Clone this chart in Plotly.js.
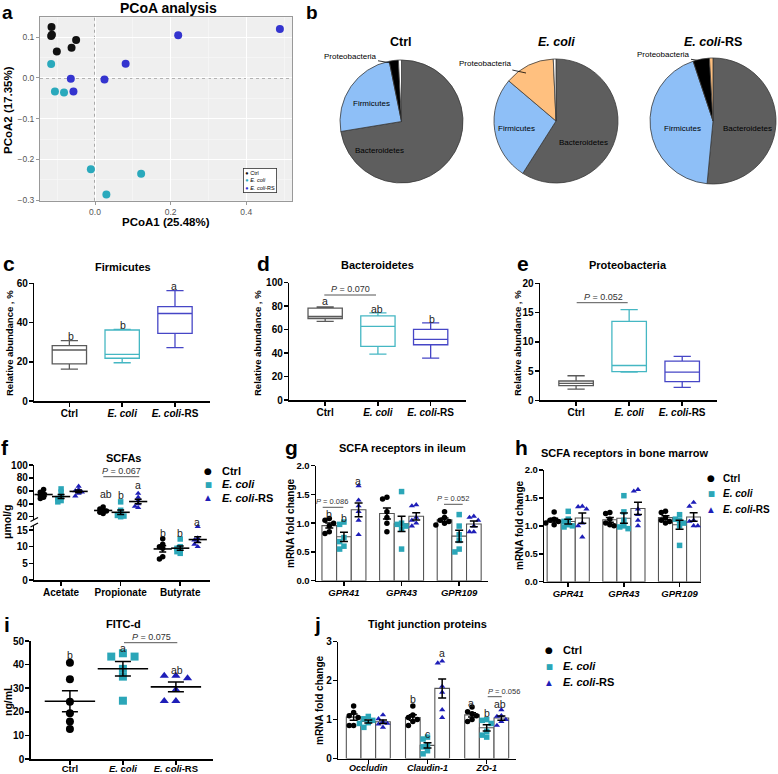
<!DOCTYPE html>
<html><head><meta charset="utf-8">
<script src="https://cdn.plot.ly/plotly-3.0.1.min.js"></script>
<style>html,body{margin:0;padding:0;background:#fff}#chart{width:778px;height:774px}</style>
</head><body><div id="chart"></div>
<script>
// ---------------- DATA ----------------
const groupNames = ['Ctrl', '<i>E. coli</i>', '<i>E. coli</i>-RS'];

// a: PCoA
const pcoaCtrlX = [-0.115, -0.116, -0.114, -0.101, -0.062, -0.050];
const pcoaCtrlY = [0.125, 0.103, 0.106, 0.065, 0.074, 0.093];
const pcoaEcoliX = [-0.116, -0.106, -0.082, -0.011, 0.122, 0.030];
const pcoaEcoliY = [0.034, -0.033, -0.036, -0.224, -0.235, -0.286];
const pcoaRSX = [-0.064, -0.057, 0.025, 0.081, 0.220, 0.489];
const pcoaRSY = [-0.002, -0.033, -0.004, 0.035, 0.105, 0.120];

// b: pies (Bacteroidetes, Firmicutes, Proteobacteria, Others)
const pieLabels = ['Bacteroidetes', 'Firmicutes', 'Proteobacteria', 'Others'];
const pieCtrl = [72.4, 24.4, 2.4, 0.8];
const pieEcoli = [59.0, 27.2, 13.1, 0.7];
const pieRS = [51.5, 43.4, 4.2, 0.9];

// c,d,e: box statistics (Ctrl, E. coli, E. coli-RS)
const firmLo = [16.2, 19.5, 27.2], firmQ1 = [18.9, 21.8, 34.5], firmMed = [26.0, 23.8, 44.6], firmQ3 = [28.2, 36.2, 48.1], firmHi = [30.8, 36.5, 56.3];
const bactLo = [67.0, 39.1, 35.7], bactQ1 = [69.5, 45.7, 47.1], bactMed = [71.2, 62.7, 51.7], bactQ3 = [78.3, 71.8, 60.2], bactHi = [79.4, 74.3, 65.8];
const protLo = [1.9, 4.8, 2.2], protQ1 = [2.5, 4.9, 3.2], protMed = [2.9, 5.95, 4.8], protQ3 = [3.3, 13.5, 6.7], protHi = [4.2, 15.5, 7.5];

// f: SCFAs (umol/g)
const scfaCats = ['Acetate', 'Propionate', 'Butyrate'];
const acetateCtrl = [62, 58, 55, 53, 50, 48];
const acetateEcoli = [63, 58, 50, 48, 45, 43];
const acetateRS = [67, 62, 60, 58, 56, 52];
const propionateCtrl = [35, 32, 30, 29, 27, 25];
const propionateEcoli = [43, 30, 25, 22, 21, 20];
const propionateRS = [56, 50, 45, 40, 36, 34];
const butyrateCtrl = [12.4, 10.7, 10.0, 9.5, 7.0, 6.3];
const butyrateEcoli = [12.3, 10.0, 9.5, 9.0, 8.5, 8.0];
const butyrateRS = [16.0, 12.6, 12.0, 11.5, 10.7, 10.0];

// g: SCFA receptors in ileum
const gprCats = ['<i>GPR41</i>', '<i>GPR43</i>', '<i>GPR109</i>'];
const ileumCtrl = [[1.08, 1.05, 1.0, 0.95, 0.85, 0.82], [1.45, 1.42, 1.2, 1.1, 1.0, 0.85], [1.2, 1.1, 1.05, 1.03, 1.0, 0.97]];
const ileumEcoli = [[1.02, 0.98, 0.75, 0.68, 0.6, 0.55], [1.55, 1.0, 0.98, 0.95, 0.9, 0.55], [1.15, 0.95, 0.8, 0.7, 0.55, 0.5]];
const ileumRS = [[1.65, 1.4, 1.3, 1.2, 1.05, 0.8], [1.32, 1.3, 1.1, 1.05, 1.0, 0.95], [1.12, 1.1, 1.05, 0.95, 0.85, 0.85]];

// h: SCFA receptors in bone marrow
const marrowCtrl = [[1.25, 1.12, 1.1, 1.08, 1.05, 1.02], [1.24, 1.22, 1.12, 1.05, 1.02, 1.0], [1.26, 1.24, 1.15, 1.1, 1.08, 1.05]];
const marrowEcoli = [[1.26, 1.12, 1.08, 1.02, 1.0, 0.98], [1.54, 1.25, 1.1, 1.0, 0.98, 0.95], [1.2, 1.12, 1.1, 1.05, 1.0, 0.65]];
const marrowRS = [[1.35, 1.34, 1.3, 1.05, 1.0, 0.8], [1.65, 1.62, 1.3, 1.2, 1.1, 1.0], [1.42, 1.35, 1.1, 1.08, 1.0, 1.0]];

// i: FITC-d (ng/mL)
const fitcCtrl = [40.8, 33.8, 24.3, 19.4, 15.9, 12.7];
const fitcEcoli = [44.8, 43.4, 43.4, 38.2, 34.9, 24.7];
const fitcRS = [35.3, 35.3, 34.2, 29.3, 24.6, 24.6];

// j: tight junction proteins
const tjCats = ['<i>Occludin</i>', '<i>Claudin-1</i>', '<i>ZO-1</i>'];
const tjCtrl = [[1.35, 1.18, 1.1, 1.05, 0.85, 0.85], [1.35, 1.12, 1.05, 1.0, 0.95, 0.85], [1.32, 1.2, 1.15, 1.1, 1.0, 0.95]];
const tjEcoli = [[1.08, 1.02, 0.98, 0.92, 0.9, 0.8], [0.55, 0.5, 0.35, 0.3, 0.2, 0.12], [1.0, 0.98, 0.9, 0.7, 0.6, 0.55]];
const tjRS = [[1.12, 1.02, 0.95, 0.9, 0.88, 0.8], [2.5, 2.45, 1.85, 1.7, 1.25, 1.05], [1.25, 1.1, 1.08, 1.0, 0.95, 0.85]];

// ---------------- STYLE / HELPERS ----------------
const W = 778, H = 774;
const FONT = 'Liberation Sans, Arial, Helvetica, sans-serif';
const cCtrl = '#000000', cEco = '#2BA6B8', cRS = '#1E1EB8';
const pcCtrl = '#111111', pcEco = '#2AA9BC', pcRS = '#3434CF';
const bCtrl = '#5a5a5a', bEco = '#45B7C3', bRS = '#4646C6';
const symbols = ['circle', 'square', 'triangle-up'];
const dotColors = [cCtrl, cEco, cRS];
const dx = (a, b) => [a / W, b / W];
const dy = (top, bot) => [1 - bot / H, 1 - top / H];
const mean = a => a.reduce((s, v) => s + v, 0) / a.length;
const sem = a => { const m = mean(a); const sd = Math.sqrt(a.reduce((s, v) => s + (v - m) * (v - m), 0) / (a.length - 1)); return sd / Math.sqrt(a.length); };

function swarm(vals, d, thr) {
  const offs = []; const cands = [0, -1, 1, -2, 2, -3, 3];
  vals.forEach((v, i) => {
    for (const c of cands) {
      let ok = true;
      for (let j = 0; j < i; j++) if (offs[j] === c * d && Math.abs(vals[j] - v) < thr) { ok = false; break; }
      if (ok) { offs.push(c * d); return; }
    }
    offs.push(0);
  });
  return offs;
}

function pX(dom, anchor, range, ticktext, fs, standoff) {
  return { domain: dom, anchor: anchor, range: range, tickmode: 'array', tickvals: [0, 1, 2], ticktext: ticktext,
    showline: true, linecolor: '#000', linewidth: 1.5, ticks: 'outside', ticklen: 4, tickwidth: 1.5, tickcolor: '#000',
    showgrid: false, zeroline: false, fixedrange: true, ticklabelstandoff: standoff === undefined ? -2 : standoff,
    tickfont: { family: FONT, size: fs || 10, color: '#000', weight: 'bold' } };
}
function pY(dom, anchor, range, tickvals, fmt, fs) {
  return { domain: dom, anchor: anchor, range: range, tickmode: 'array', tickvals: tickvals, tickformat: fmt || '',
    showline: true, linecolor: '#000', linewidth: 1.5, ticks: 'outside', ticklen: 4, tickwidth: 1.5, tickcolor: '#000',
    showgrid: false, zeroline: false, fixedrange: true, ticklabelstandoff: -1,
    tickfont: { family: FONT, size: fs || 10, color: '#000', weight: 'bold' } };
}

const traces = [];
const annotations = [];
const shapes = [];

function T(text, px, py, size, o) {
  annotations.push(Object.assign({ text: text, x: px / W, y: 1 - py / H, xref: 'paper', yref: 'paper', showarrow: false,
    xanchor: 'center', yanchor: 'middle', font: { family: FONT, size: size, color: '#000' } }, o || {}));
}
function TB(text, px, py, size, o) { T(text, px, py, size, Object.assign({ font: { family: FONT, size: size, color: '#000', weight: 'bold' } }, o || {})); }
function L(x0, y0, x1, y1, color, width) {
  shapes.push({ type: 'line', xref: 'paper', yref: 'paper', x0: x0 / W, x1: x1 / W, y0: 1 - y0 / H, y1: 1 - y1 / H, line: { color: color || '#000', width: width || 1 } });
}

// ---------------- a: PCoA ----------------
[[pcoaCtrlX, pcoaCtrlY, pcCtrl], [pcoaEcoliX, pcoaEcoliY, pcEco], [pcoaRSX, pcoaRSY, pcRS]].forEach(([xs, ys, col], i) => {
  traces.push({ type: 'scatter', mode: 'markers', x: xs, y: ys, xaxis: 'x', yaxis: 'y', name: groupNames[i], showlegend: false,
    marker: { size: 8, color: col, line: { width: 0 } }, hoverinfo: 'skip' });
});
shapes.push({ type: 'rect', xref: 'x domain', yref: 'y domain', x0: 0, x1: 1, y0: 0, y1: 1, fillcolor: '#EFEFEF', line: { width: 0 }, layer: 'below' });
shapes.push({ type: 'line', xref: 'x', yref: 'y domain', x0: 0, x1: 0, y0: 0, y1: 1, line: { color: '#777', width: 1.2, dash: 'dot' }, layer: 'below' });
shapes.push({ type: 'line', xref: 'x domain', yref: 'y', x0: 0, x1: 1, y0: 0, y1: 0, line: { color: '#777', width: 1.2, dash: 'dot' }, layer: 'below' });

// ---------------- b: pies ----------------
const pieCols = [
  ['#5E5E5E', '#8EBFF7', '#000000', '#FFFFFF'],
  ['#5E5E5E', '#8EBFF7', '#FFC07F', '#FFFFFF'],
  ['#5E5E5E', '#8EBFF7', '#000000', '#FFC07F']];
[[pieCtrl, 340, 463, 60, 183], [pieEcoli, 494, 618, 59, 183], [pieRS, 650, 776, 58, 184]].forEach(([vals, x0, x1, y0, y1], i) => {
  traces.push({ type: 'pie', values: vals, labels: pieLabels, sort: false, direction: 'clockwise', rotation: 0,
    textinfo: 'none', hoverinfo: 'skip', showlegend: false,
    marker: { colors: pieCols[i], line: { color: '#3a3a3a', width: 0.8 } },
    domain: { x: dx(x0, x1), y: dy(y0, y1) } });
});

// ---------------- c,d,e: boxes ----------------
function boxes(xa, ya, lo, q1, med, q3, hi) {
  [bCtrl, bEco, bRS].forEach((col, i) => {
    traces.push({ type: 'box', x: [i], q1: [q1[i]], median: [med[i]], q3: [q3[i]], lowerfence: [lo[i]], upperfence: [hi[i]],
      xaxis: xa, yaxis: ya, width: 0.65, whiskerwidth: 0.5, fillcolor: 'rgba(255,255,255,0)', line: { color: col, width: 1.3 },
      showlegend: false, hoverinfo: 'skip', boxpoints: false });
  });
}
boxes('x2', 'y2', firmLo, firmQ1, firmMed, firmQ3, firmHi);
boxes('x3', 'y3', bactLo, bactQ1, bactMed, bactQ3, bactHi);
boxes('x4', 'y4', protLo, protQ1, protMed, protQ3, protHi);

// ---------------- dot / bar helpers ----------------
function dots(xa, ya, xs, ys, gi, size) {
  traces.push({ type: 'scatter', mode: 'markers', x: xs, y: ys, xaxis: xa, yaxis: ya, showlegend: false, hoverinfo: 'skip', cliponaxis: false,
    marker: { symbol: symbols[gi], size: size, color: dotColors[gi], line: { width: 0 } } });
}
function meanSem(xa, ya, xs, means, sems, lineW, capW, showMean) {
  traces.push({ type: 'scatter', mode: 'markers', x: xs, y: means, xaxis: xa, yaxis: ya, showlegend: false, hoverinfo: 'skip', cliponaxis: false,
    marker: showMean ? { symbol: 'line-ew', size: lineW, color: '#000', line: { color: '#000', width: 1.6 } } : { size: 1, color: 'rgba(0,0,0,0)' },
    error_y: { type: 'data', array: sems, color: '#000', thickness: 1.5, width: capW } });
}

// ---------------- f: SCFAs ----------------
const fOff = 0.294;
[[acetateCtrl, propionateCtrl, butyrateCtrl], [acetateEcoli, propionateEcoli, butyrateEcoli], [acetateRS, propionateRS, butyrateRS]].forEach((arrs, gi) => {
  const c = (gi - 1) * fOff;
  const ux = [], uy = [];
  [arrs[0], arrs[1]].forEach((vals, ci) => {
    const o = swarm(vals, 0.055, 4.5);
    vals.forEach((v, k) => { ux.push(ci + c + o[k]); uy.push(v); });
  });
  dots('x5', 'y5', ux, uy, gi, 5.5);
  meanSem('x5', 'y5', [0 + c, 1 + c], [mean(arrs[0]), mean(arrs[1])], [sem(arrs[0]), sem(arrs[1])], 13, 3.5, true);
  const o = swarm(arrs[2], 0.055, 0.9);
  dots('x5', 'y6', arrs[2].map((v, k) => 2 + c + o[k]), arrs[2], gi, 5.5);
  meanSem('x5', 'y6', [2 + c], [mean(arrs[2])], [sem(arrs[2])], 13, 3.5, true);
});

// ---------------- bar panels g,h,j ----------------
function barPanel(xa, ya, gw, sets, size, d, thr) {
  const bw = gw / 3;
  sets.forEach((groupArr, gi) => {
    const off = -gw / 2 + gi * bw;
    const means = groupArr.map(mean);
    traces.push({ type: 'bar', x: [0, 1, 2], y: means, width: [bw, bw, bw], offset: [off, off, off], xaxis: xa, yaxis: ya,
      marker: { color: '#ffffff', line: { color: '#555', width: 1.1 } }, showlegend: false, hoverinfo: 'skip' });
  });
  sets.forEach((groupArr, gi) => {
    const cx = -gw / 2 + gi * bw + bw / 2;
    const xs = [], ys = [];
    groupArr.forEach((vals, ci) => { const o = swarm(vals, d, thr); vals.forEach((v, k) => { xs.push(ci + cx + o[k]); ys.push(v); }); });
    dots(xa, ya, xs, ys, gi, size);
  });
  sets.forEach((groupArr, gi) => {
    const cx = -gw / 2 + gi * bw + bw / 2;
    meanSem(xa, ya, [0 + cx, 1 + cx, 2 + cx], groupArr.map(mean), groupArr.map(sem), 0, 4, false);
  });
}
barPanel('x6', 'y7', 0.763, [ileumCtrl, ileumEcoli, ileumRS], 5.5, 0.075, 0.09);
barPanel('x7', 'y8', 0.758, [marrowCtrl, marrowEcoli, marrowRS], 5.5, 0.075, 0.09);
barPanel('x9', 'y10', 0.743, [tjCtrl, tjEcoli, tjRS], 5.5, 0.075, 0.13);

// ---------------- i: FITC-d ----------------
[fitcCtrl, fitcEcoli, fitcRS].forEach((vals, gi) => {
  const o = swarm(vals, 0.22, 2.6);
  dots('x8', 'y9', vals.map((v, k) => gi + o[k]), vals, gi, 8);
  meanSem('x8', 'y9', [gi], [mean(vals)], [sem(vals)], 36, 8, true);
});

// ---------------- annotations: panel letters ----------------
[['a', 7, 12.5, 19], ['b', 312, 12.5, 19], ['c', 9, 264, 21], ['d', 263, 264, 21], ['e', 523, 264, 21], ['f', 5, 447, 21], ['g', 291, 447, 21], ['h', 521, 447, 21], ['i', 7, 624, 21], ['j', 317, 624, 21]]
  .forEach(([t, x, y, s]) => TB(t, x, y, s));

// titles
TB('PCoA analysis', 168, 8, 14);
TB('Ctrl', 401, 42, 12.5);
TB('<i>E. coli</i>', 556, 42, 12.5);
TB('<i>E. coli</i>-RS', 713, 42, 12.5);
TB('Firmicutes', 123, 267, 11);
TB('Bacteroidetes', 377, 265, 11);
TB('Proteobacteria', 628, 265, 11);
TB('SCFAs', 123, 458, 11);
TB('SCFA receptors in ileum', 402, 448, 11);
TB('SCFA receptors in bone marrow', 625, 453, 11);
TB('FITC-d', 123, 624, 11);
TB('Tight junction proteins', 427, 624, 11);

// axis titles
TB('PCoA2 (17.35%)', 8, 110, 11.5, { textangle: -90 });
TB('PCoA1 (25.48%)', 166, 222, 11.5);
TB('Relative abundance , %', 9, 343, 9.5, { textangle: -90 });
TB('Relative abundance , %', 257, 343, 9.5, { textangle: -90 });
TB('Relative abundance , %', 517, 343, 9.5, { textangle: -90 });
TB('μmol/g', 7, 522, 10.5, { textangle: -90 });
TB('mRNA fold change', 290, 523, 10, { textangle: -90 });
TB('mRNA fold change', 519, 525, 10, { textangle: -90 });
TB('ng/mL', 8, 700, 10.5, { textangle: -90 });
TB('mRNA fold change', 319, 700, 10, { textangle: -90 });

// pie labels
T('Firmicutes', 371, 104, 8);
T('Bacteroidetes', 379, 150, 8);
T('Firmicutes', 516, 128, 8);
T('Bacteroidetes', 583, 143, 8);
T('Firmicutes', 682, 128, 8);
T('Bacteroidetes', 747, 128, 8);
[[350, 56, 391, 63], [485, 64, 526, 73], [663, 55, 702, 61]].forEach(([tx, ty, px, py]) => {
  annotations.push({ text: 'Proteobacteria', x: px / W, y: 1 - py / H, xref: 'paper', yref: 'paper', showarrow: true, arrowhead: 0,
    arrowwidth: 0.8, arrowcolor: '#000', ax: tx - px, ay: ty - py, standoff: 0, font: { family: FONT, size: 8, color: '#000' } });
});

// PCoA legend
annotations.push({ xref: 'paper', yref: 'paper', x: 243 / W, y: 1 - 193 / H, xanchor: 'left', yanchor: 'bottom', showarrow: false, align: 'left',
  text: '<span style="color:' + pcCtrl + '">●</span> Ctrl<br><span style="color:' + pcEco + '">●</span> <i>E. coli</i><br><span style="color:' + pcRS + '">●</span> <i>E. coli</i>-RS',
  font: { family: FONT, size: 5.5, color: '#000' }, bordercolor: '#333', borderwidth: 0.8, borderpad: 1.5, bgcolor: '#fff' });

// significance letters
const letterFs = 10.5;
[['b', 70.5, 336], ['b', 122.7, 325], ['a', 174, 286],
 ['a', 325, 301], ['ab', 377.3, 309], ['b', 431.7, 319],
 ['ab', 106, 494], ['b', 120.7, 495], ['a', 138.3, 485], ['b', 162.7, 533.3], ['b', 180, 533.3], ['a', 196.7, 521.7],
 ['b', 329.3, 514], ['b', 344, 518.3], ['a', 358.3, 481],
 ['b', 70, 655], ['a', 122.7, 648.3], ['ab', 176.7, 670],
 ['b', 412.7, 699], ['c', 427.3, 734], ['a', 442, 653.3], ['a', 471, 703.3], ['b', 486.7, 712.7], ['ab', 500, 704]]
  .forEach(([t, x, y]) => T(t, x, y, letterFs, { font: { family: FONT, size: letterFs, color: '#222' } }));

// P-value brackets
[['0.070', 324.3, 376, 295, 350.5, 9], ['0.052', 576.7, 627.7, 302.7, 603, 9], ['0.067', 103.3, 139.3, 476.7, 121.5, 9],
 ['0.086', 322.7, 343.3, 507.3, 332, 7.5], ['0.052', 444, 462.7, 504.3, 453, 7.5], ['0.075', 124, 177.3, 642.7, 151.5, 9],
 ['0.056', 487.7, 501.7, 696.7, 503.5, 7.5]].forEach(([p, x0, x1, y, tx, fs]) => {
  L(x0, y, x1, y, '#555', 1);
  annotations.push({ text: '<i>P</i> = ' + p, x: tx / W, y: 1 - y / H, xref: 'paper', yref: 'paper', showarrow: false,
    xanchor: 'center', yanchor: 'bottom', yshift: -1, font: { family: FONT, size: fs, color: '#333' } });
});

// axis break marks (panel f)
L(30.5, 521.5, 38, 517.5, '#000', 1.3);
L(30.5, 527, 38, 523, '#000', 1.3);

// group legends (f, h, j)
function legendBlock(mx, tx, rows, fs) {
  const syms = ['●', '■', '▲'];
  rows.forEach((ry, gi) => {
    T(syms[gi], mx, ry, gi === 0 ? 9 : 7.5, { font: { family: 'DejaVu Sans', size: gi === 0 ? 9 : 7.5, color: dotColors[gi] } });
    TB(groupNames[gi], tx, ry, fs, { xanchor: 'left' });
  });
}
legendBlock(208.3, 220, [471, 484.3, 497.7], 11);
legendBlock(711, 721, [478.3, 493.3, 509], 10);
legendBlock(549.3, 561, [650, 666, 682.3], 11);

// ---------------- LAYOUT ----------------
const grey = '#999';
const layout = {
  width: W, height: H, margin: { l: 0, r: 0, t: 0, b: 0, pad: 0 }, paper_bgcolor: '#fff', plot_bgcolor: 'rgba(0,0,0,0)',
  font: { family: FONT, color: '#000' }, showlegend: false, hovermode: false,
  xaxis: { domain: dx(40, 292), anchor: 'y', range: [-0.1455, 0.521], tickmode: 'linear', tick0: 0, dtick: 0.2, tickformat: '.1f',
    showgrid: true, gridcolor: '#ffffff', gridwidth: 1, minor: { dtick: 0.1, showgrid: true, gridcolor: '#f8f8f8', gridwidth: 0.6 },
    zeroline: false, showline: true, mirror: true, linecolor: grey, linewidth: 1, ticks: 'outside', ticklen: 3, tickcolor: grey,
    tickfont: { family: FONT, size: 8.5, color: '#555' } },
  yaxis: { domain: dy(17.3, 200.7), anchor: 'x', range: [-0.3015, 0.149], tickmode: 'linear', tick0: 0, dtick: 0.1, tickformat: '.1f',
    showgrid: true, gridcolor: '#ffffff', gridwidth: 1, minor: { dtick: 0.05, showgrid: true, gridcolor: '#f8f8f8', gridwidth: 0.6 },
    zeroline: false, showline: true, mirror: true, linecolor: grey, linewidth: 1, ticks: 'outside', ticklen: 3, tickcolor: grey,
    tickfont: { family: FONT, size: 8.5, color: '#555' } },
  xaxis2: pX(dx(34.3, 210), 'y2', [-0.664, 2.663], groupNames, 10),
  yaxis2: pY(dy(283.3, 401), 'x2', [0, 60], [0, 20, 40, 60]),
  xaxis3: pX(dx(289.3, 466), 'y3', [-0.68, 2.67], groupNames, 10),
  yaxis3: pY(dy(282.7, 400), 'x3', [0, 100], [0, 20, 40, 60, 80, 100]),
  xaxis4: pX(dx(540, 716.7), 'y4', [-0.68, 2.65], groupNames, 10),
  yaxis4: pY(dy(283.3, 400.3), 'x4', [0, 20], [0, 5, 10, 15, 20]),
  xaxis5: pX(dx(34.3, 210), 'y6', [-0.45, 2.5], scfaCats, 10),
  yaxis5: pY(dy(465, 519.5), 'x5', [15.7, 100], [20, 40, 60, 80, 100]),
  yaxis6: pY(dy(526, 580), 'x5', [0, 16.2], [0, 5, 10, 15]),
  xaxis6: pX(dx(316, 488), 'y7', [-0.485, 2.5], gprCats, 9.5),
  yaxis7: pY(dy(465.7, 580.7), 'x6', [0, 2], [0, 0.5, 1, 1.5, 2], '.1f', 9.5),
  xaxis7: pX(dx(544.3, 701), 'y8', [-0.43, 2.385], gprCats, 9.5),
  yaxis8: pY(dy(470, 581.7), 'x7', [0, 2], [0, 0.5, 1, 1.5, 2], '.1f', 9.5),
  xaxis8: pX(dx(30.7, 213), 'y9', [-0.74, 2.7], groupNames, 9.5, -4),
  yaxis9: pY(dy(641, 759), 'x8', [0, 50], [0, 10, 20, 30, 40, 50]),
  xaxis9: pX(dx(338.3, 516), 'y10', [-0.507, 2.495], tjCats, 9, -4),
  yaxis10: pY(dy(641.7, 758.5), 'x9', [0, 3], [0, 1, 2, 3], '', 10),
  annotations: annotations, shapes: shapes
};

Plotly.newPlot('chart', traces, layout, { staticPlot: true, displayModeBar: false });
</script></body></html>
